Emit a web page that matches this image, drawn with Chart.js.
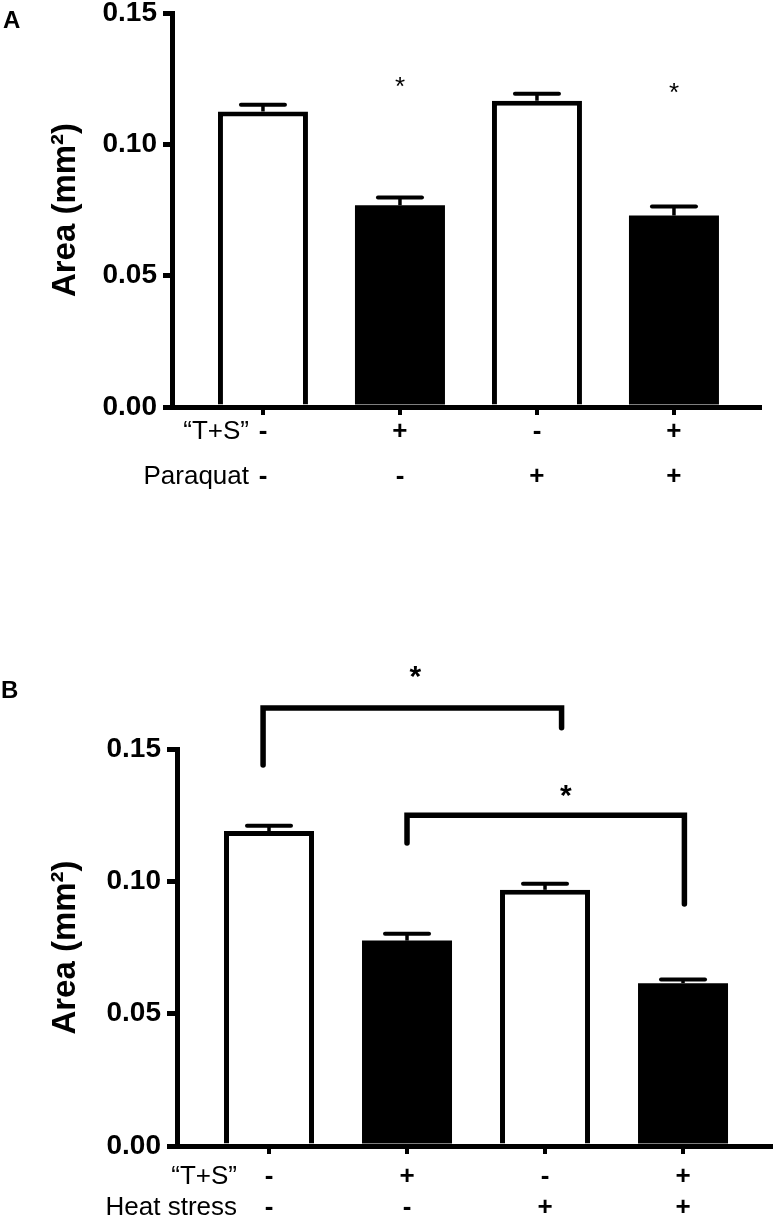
<!DOCTYPE html>
<html><head><meta charset="utf-8">
<script src="https://cdn.jsdelivr.net/npm/chart.js@4"></script>
<style>
html,body{margin:0;padding:0;background:#fff;width:773px;height:1220px;overflow:hidden}
canvas{position:absolute;left:0}
#ca{top:0}
#cb{top:600px}
</style></head><body>
<canvas id="ca" width="773" height="520"></canvas>
<canvas id="cb" width="773" height="620"></canvas>
<script>
// ---------- data: panel A ----------
const groupsA = [1, 2, 3, 4];
const tsRowA = ['-', '+', '-', '+'];
const paraquatRowA = ['-', '-', '+', '+'];
const rowHeadersA = ['\u201CT+S\u201D', 'Paraquat'];
const areaA = [0.1125, 0.0768, 0.1166, 0.0729];
const semA = [0.0026, 0.0030, 0.0027, 0.0034];
const starXA = [2, 4];
const starYA = [0.1245, 0.1222];

// ---------- data: panel B ----------
const groupsB = [1, 2, 3, 4];
const tsRowB = ['-', '+', '-', '+'];
const heatRowB = ['-', '-', '+', '+'];
const rowHeadersB = ['\u201CT+S\u201D', 'Heat stress'];
const areaB = [0.1190, 0.0776, 0.0968, 0.0615];
const semB = [0.0020, 0.0026, 0.0023, 0.0014];
// significance brackets (category units / axis units)
const bracketX1B = [0.957, 2.0];
const bracketX2B = [3.12, 4.01];
const bracketTopB = [0.1655, 0.1250];
const bracketLeftEndB = [0.1440, 0.1145];
const bracketRightEndB = [0.1580, 0.0914];
const starXB = [2.06, 3.15];
const starYB = [0.1802, 0.1356];

const yTicks = [0, 0.05, 0.10, 0.15];
const fills = ['#ffffff', '#000000', '#ffffff', '#000000'];
const borderWidths = [5, 0, 5, 0];

Chart.defaults.font.family = "'Liberation Sans', Arial, sans-serif";
Chart.defaults.color = '#000';

function extras(opts) {
  return {
    id: 'extras',
    afterDatasetsDraw(chart) {
      const ctx = chart.ctx, xs = chart.scales.x, ys = chart.scales.y;
      ctx.save();
      ctx.strokeStyle = '#000';
      opts.groups.forEach((g, i) => {
        const x = xs.getPixelForValue(g);
        const yTop = ys.getPixelForValue(opts.values[i]);
        const yCap = ys.getPixelForValue(opts.values[i] + opts.sem[i]);
        ctx.lineCap = 'butt';
        ctx.lineWidth = 3.5;
        ctx.beginPath(); ctx.moveTo(x, yTop); ctx.lineTo(x, yCap); ctx.stroke();
        ctx.lineCap = 'round';
        ctx.lineWidth = 4;
        ctx.beginPath(); ctx.moveTo(x - 22, yCap); ctx.lineTo(x + 22, yCap); ctx.stroke();
      });
      ctx.restore();
    },
    afterDraw(chart) {
      const ctx = chart.ctx, xs = chart.scales.x, ys = chart.scales.y;
      ctx.save();
      ctx.fillStyle = '#000';
      ctx.strokeStyle = '#000';
      // brackets
      (opts.brackets || []).forEach(b => {
        ctx.lineWidth = 5.5; ctx.lineCap = 'round'; ctx.lineJoin = 'miter';
        ctx.beginPath();
        ctx.moveTo(xs.getPixelForValue(b.x1), ys.getPixelForValue(b.yl));
        ctx.lineTo(xs.getPixelForValue(b.x1), ys.getPixelForValue(b.top));
        ctx.lineTo(xs.getPixelForValue(b.x2), ys.getPixelForValue(b.top));
        ctx.lineTo(xs.getPixelForValue(b.x2), ys.getPixelForValue(b.yr));
        ctx.stroke();
      });
      // stars
      ctx.font = opts.starFont;
      ctx.textAlign = 'center';
      ctx.textBaseline = 'alphabetic';
      opts.starX.forEach((sx, i) => {
        ctx.fillText('*', xs.getPixelForValue(sx), ys.getPixelForValue(opts.starY[i]) + opts.starSize * 0.58);
      });
      // row headers
      ctx.font = "26px 'Liberation Sans', Arial, sans-serif";
      ctx.textAlign = 'right';
      ctx.textBaseline = 'middle';
      const base = xs.top + opts.tickLen + opts.tickPad;
      opts.rowHeaders.forEach((t, k) => {
        ctx.fillText(t, opts.headerRight, base + opts.rowH * (k + 0.5));
      });
      // panel letter
      ctx.font = "bold 24px 'Liberation Sans', Arial, sans-serif";
      ctx.textAlign = 'left';
      ctx.fillText(opts.letter, opts.letterX, opts.letterY);
      ctx.restore();
    }
  };
}

function makeChart(id, p) {
  return new Chart(document.getElementById(id), {
    type: 'bar',
    data: {
      datasets: [{
        data: p.groups.map((g, i) => ({ x: g, y: p.values[i] })),
        backgroundColor: fills,
        borderColor: '#000',
        borderWidth: borderWidths,
        borderSkipped: 'bottom',
        categoryPercentage: 1,
        barPercentage: p.barPct
      }]
    },
    options: {
      responsive: false,
      devicePixelRatio: 1,
      animation: false,
      events: [],
      layout: { padding: p.padding },
      plugins: { legend: { display: false }, tooltip: { enabled: false } },
      scales: {
        x: {
          type: 'linear', min: p.xmin, max: p.xmax, offset: false, z: 1,
          afterBuildTicks: s => { s.ticks = p.groups.map(v => ({ value: v })); },
          afterFit: s => { s.height = p.xHeight; },
          grid: { display: true, offset: false, drawOnChartArea: false, drawTicks: true,
                  tickLength: p.tickLen, tickWidth: 4, lineWidth: 4, tickColor: '#000', color: '#000' },
          border: { display: true, color: '#000', width: 5 },
          ticks: {
            autoSkip: false, maxRotation: 0, minRotation: 0, padding: p.tickPad, color: '#000',
            font: { size: 26, weight: 'bold', lineHeight: p.rowH / 26 },
            callback: (v, i) => [p.row1[i], p.row2[i]]
          }
        },
        y: {
          min: 0, max: 0.15, z: 1,
          afterBuildTicks: s => { s.ticks = yTicks.map(v => ({ value: v })); },
          afterFit: s => { s.width = p.yWidth; },
          grid: { drawOnChartArea: false, drawTicks: true, tickLength: p.yTickLen,
                  tickWidth: 5, lineWidth: 5, tickColor: '#000', color: '#000' },
          border: { display: true, color: '#000', width: 5 },
          ticks: { padding: 6, color: '#000', font: { size: p.yFont, weight: 'bold', lineHeight: 0.4 },
                   callback: v => v.toFixed(2) },
          title: { display: true, text: 'Area (mm\u00B2)', color: '#000',
                   font: { size: 33, weight: 'bold' }, padding: { top: p.titlePad, bottom: 0 } }
        }
      }
    },
    plugins: [extras(p.extra)]
  });
}

makeChart('ca', {
  groups: groupsA, values: areaA, barPct: 90 / 137,
  padding: { top: 13, right: 13, left: 0, bottom: 0 },
  xmin: 0.336, xmax: 4.628, xHeight: 113, tickLen: 8, tickPad: -5.5, rowH: 45,
  row1: tsRowA, row2: paraquatRowA,
  yWidth: 172, yTickLen: 9, yFont: 28, titlePad: 46,
  extra: {
    groups: groupsA, values: areaA, sem: semA,
    starX: starXA, starY: starYA, starFont: "26px 'Liberation Sans', Arial, sans-serif", starSize: 26,
    rowHeaders: rowHeadersA, headerRight: 249, tickLen: 8, tickPad: -5.5, rowH: 45,
    letter: 'A', letterX: 3, letterY: 21
  }
});

makeChart('cb', {
  groups: groupsB, values: areaB, barPct: 90 / 138,
  padding: { top: 149, right: 0, left: 0, bottom: 0 },
  xmin: 0.3333, xmax: 4.652, xHeight: 74, tickLen: 8, tickPad: 7.5, rowH: 31,
  row1: tsRowB, row2: heatRowB,
  yWidth: 177, yTickLen: 10, yFont: 28, titlePad: 46,
  extra: {
    groups: groupsB, values: areaB, sem: semB,
    brackets: bracketX1B.map((x1, i) => ({ x1: x1, x2: bracketX2B[i], top: bracketTopB[i],
                                           yl: bracketLeftEndB[i], yr: bracketRightEndB[i] })),
    starX: starXB, starY: starYB, starFont: "bold 30px 'Liberation Sans', Arial, sans-serif", starSize: 30,
    rowHeaders: rowHeadersB, headerRight: 237, tickLen: 8, tickPad: 7.5, rowH: 31,
    letter: 'B', letterX: 1, letterY: 91
  }
});
</script>
</body></html>
